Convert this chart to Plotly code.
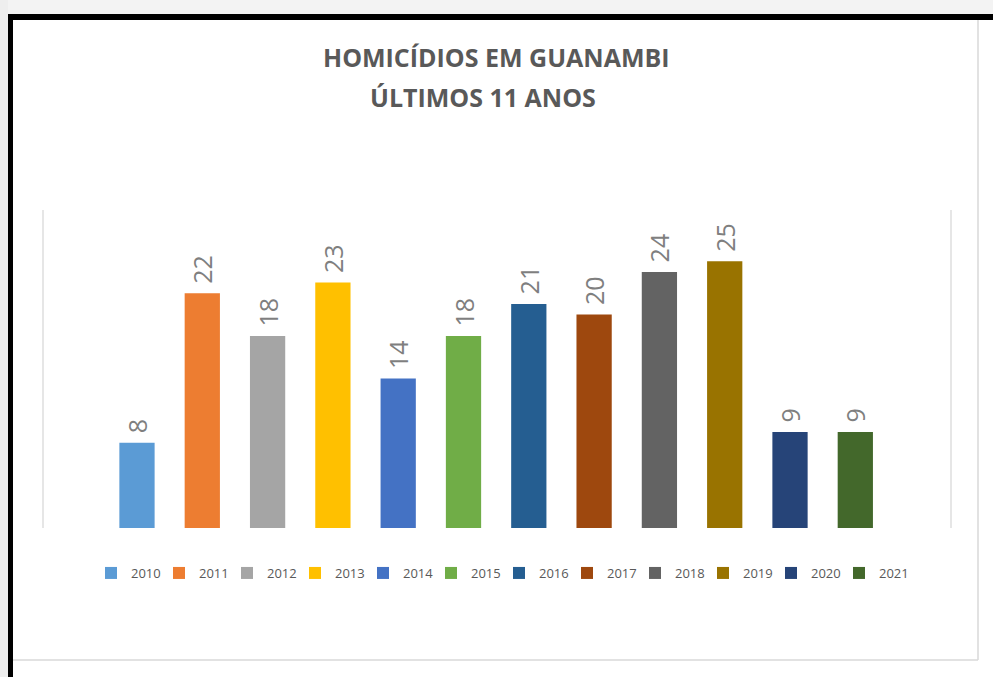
import plotly.graph_objects as go

years = ["2010", "2011", "2012", "2013", "2014", "2015", "2016", "2017", "2018", "2019", "2020", "2021"]
homicides = [8, 22, 18, 23, 14, 18, 21, 20, 24, 25, 9, 9]
colors = ["#5B9BD5", "#ED7D31", "#A5A5A5", "#FFC000", "#4472C4", "#70AD47",
          "#255E91", "#9E480E", "#636363", "#997300", "#264478", "#43682B"]
title_line1 = "HOMICÍDIOS EM GUANAMBI"
title_line2 = "ÚLTIMOS 11 ANOS"

W, H = 993, 677
L, R, T, B = 44, 950, 210, 528  # plot area pixels

def px(x):
    return (x - L) / (R - L)

def py(y):
    return (B - y) / (B - T)

fig = go.Figure()
for yr, v, c in zip(years, homicides, colors):
    fig.add_trace(go.Bar(
        x=[yr], y=[v], name=yr, marker=dict(color=c, line=dict(width=0)),
        width=0.54,
        text=[v], texttemplate="\u00a0%{y}", textposition="outside", textangle=-90,
        textfont=dict(family="Open Sans", size=25, color="#7f7f7f"),
        cliponaxis=False,
    ))

shapes = [
    dict(type="rect", xref="paper", yref="paper", x0=px(0), x1=px(W), y0=py(0), y1=py(14),
         fillcolor="#f3f3f3", line=dict(width=0), layer="below"),
    dict(type="rect", xref="paper", yref="paper", x0=px(0), x1=px(8), y0=py(0), y1=py(H),
         fillcolor="#eeeeee", line=dict(width=0), layer="below"),
    dict(type="rect", xref="paper", yref="paper", x0=px(8), x1=px(W), y0=py(14), y1=py(20),
         fillcolor="#000000", line=dict(width=0)),
    dict(type="rect", xref="paper", yref="paper", x0=px(8), x1=px(13), y0=py(14), y1=py(H),
         fillcolor="#000000", line=dict(width=0)),
    dict(type="line", xref="paper", yref="paper", x0=px(978), x1=px(978), y0=py(20), y1=py(660),
         line=dict(color="#d9d9d9", width=1.5)),
    dict(type="line", xref="paper", yref="paper", x0=px(13), x1=px(978), y0=py(660), y1=py(660),
         line=dict(color="#d9d9d9", width=1.5)),
]

fig.update_layout(
    width=W, height=H,
    margin=dict(l=L, r=W - R, t=T, b=H - B, pad=0),
    paper_bgcolor="white", plot_bgcolor="white",
    barmode="overlay",
    showlegend=True,
    legend=dict(orientation="h", x=px(499), xanchor="center", y=py(573), yanchor="middle",
                font=dict(family="Open Sans", size=13, color="#595959"),
                itemwidth=30, entrywidth=23, traceorder="normal"),
    xaxis=dict(type="category", range=[-1.424, 12.45], showticklabels=False, showgrid=False,
               zeroline=False, showline=False, fixedrange=True),
    yaxis=dict(range=[0, 29.8], showticklabels=False, showgrid=False, zeroline=False,
               showline=True, mirror=True, linecolor="#e6e6e6", linewidth=1.5),
    shapes=shapes,
    annotations=[
        dict(text=title_line1, xref="paper", yref="paper", x=px(496), y=py(57),
             xanchor="center", yanchor="middle", showarrow=False,
             font=dict(family="Open Sans", size=25, color="#595959", weight="bold")),
        dict(text=title_line2, xref="paper", yref="paper", x=px(483), y=py(97),
             xanchor="center", yanchor="middle", showarrow=False,
             font=dict(family="Open Sans", size=25, color="#595959", weight="bold")),
    ],
)

fig.write_html("out.html")
